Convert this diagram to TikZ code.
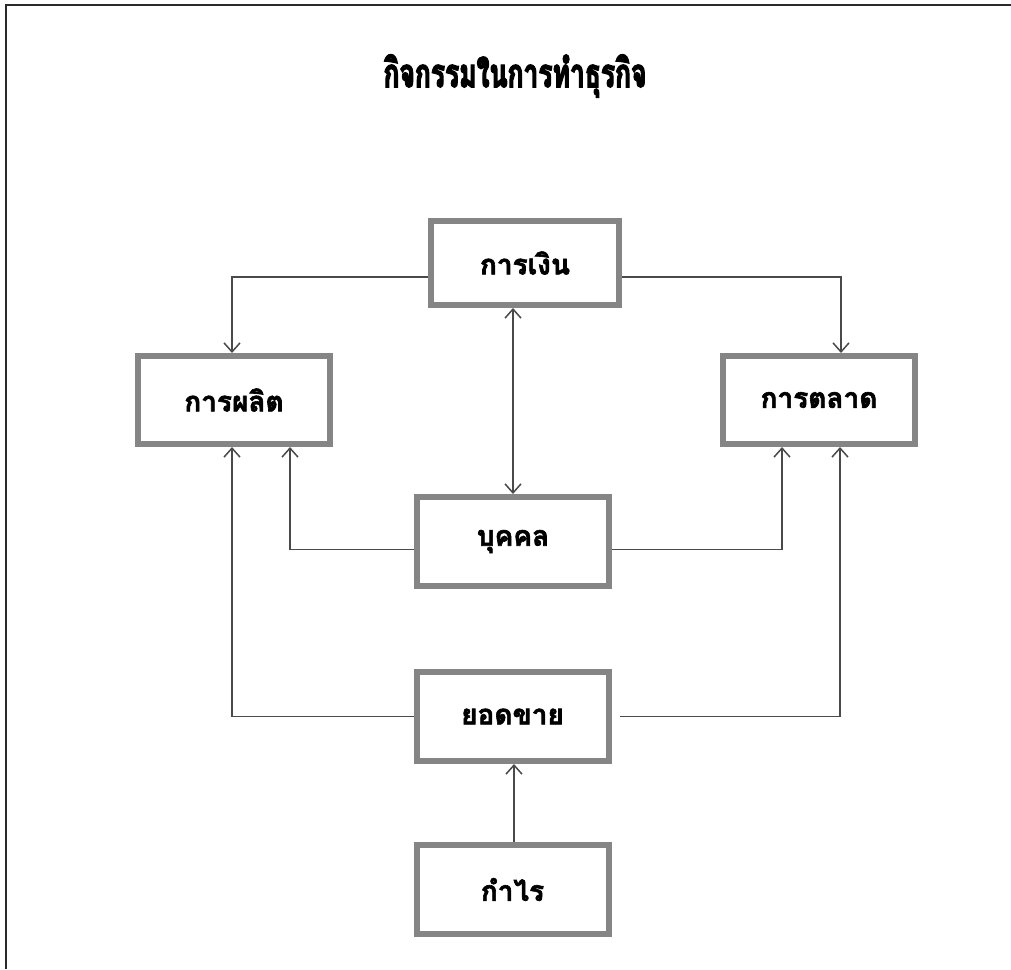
\documentclass[tikz,border=0pt]{standalone}
\usepackage{fontspec}
\usetikzlibrary{arrows.meta}
\newfontfamily\thaifont[Script=Thai,FakeBold=2.2]{Loma}
\newfontfamily\thaititle[Script=Thai,FakeStretch=0.66,FakeBold=3]{Loma}
\definecolor{boxgray}{HTML}{858585}
\definecolor{linegray}{HTML}{4A4A4A}
\definecolor{framegray}{HTML}{2A2A2A}
\tikzset{
  box/.style={draw=boxgray, line width=6pt, fill=white, rectangle, inner sep=0pt,
    font=\thaifont\bfseries\fontsize{28}{32}\selectfont, text=black},
  bigbox/.style={box, minimum width=192pt, minimum height=88pt},
  midbox/.style={box, minimum width=192pt, minimum height=89pt},
  conn/.style={draw=linegray, line width=1.5pt, -{Straight Barb[length=9pt,width=16pt,line width=1.5pt]}},
  frameline/.style={draw=framegray, line width=2.2pt},
  titletext/.style={font=\thaititle\bfseries\fontsize{40}{44}\selectfont, text=black, inner sep=0pt}
}
\begin{document}
\begin{tikzpicture}[x=1pt,y=-1pt]
\useasboundingbox (0,0) rectangle (1011,969);
\fill[white] (0,0) rectangle (1011,969);
\draw[frameline] (6,969) -- (6,5) -- (1011,5);
\node[titletext] (title) at (515,76) {กิจกรรมในการทำธุรกิจ};
\node[box, minimum width=188pt, minimum height=84pt] (fin) at (525,263) {การเงิน};
\node[bigbox] (prod) at (234,400) {การผลิต};
\node[bigbox] (mkt) at (819,400) {การตลาด};
\node[midbox] (per) at (513,541.5) {บุคคล};
\node[midbox] (sales) at (512.5,716.5) {ยอดขาย};
\node[midbox] (profit) at (512.5,889.5) {กำไร};
\draw[conn] ([yshift=-14pt]fin.west) -| ([xshift=-2pt]prod.north);
\draw[conn] ([yshift=-14pt]fin.east) -| ([xshift=22pt]mkt.north);
\draw[conn, {Straight Barb[length=9pt,width=16pt,line width=1.5pt]}-{Straight Barb[length=9pt,width=16pt,line width=1.5pt]}] (fin.south -| per.north) -- (per.north);
\draw[conn] ([yshift=-8pt]per.west) -| ([xshift=56pt]prod.south);
\draw[conn] ([yshift=-8pt]per.east) -| ([xshift=-37pt]mkt.south);
\draw[conn] (sales.west) -| ([xshift=-2pt]prod.south);
\draw[conn, shorten <=8pt] (sales.east) -| ([xshift=21pt]mkt.south);
\draw[conn] ([xshift=1.5pt]profit.north) -- ([xshift=1.5pt]sales.south);
\end{tikzpicture}
\end{document}
